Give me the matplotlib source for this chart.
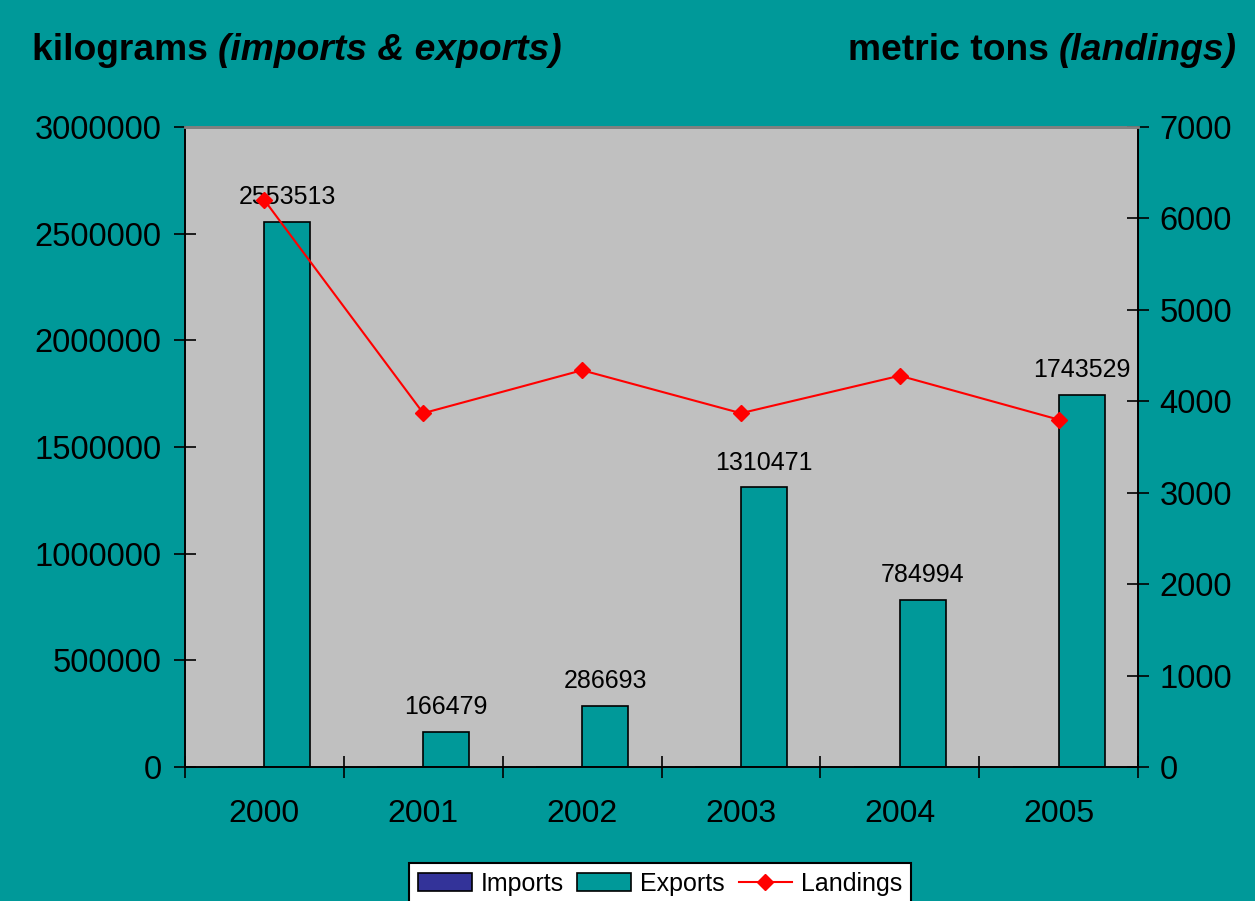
import matplotlib.pyplot as plt
import numpy as np

plt.rcParams['font.family'] = ['Liberation Sans', 'DejaVu Sans']

years = ['2000', '2001', '2002', '2003', '2004', '2005']
imports = [0, 0, 0, 0, 0, 0]
exports = [2553513, 166479, 286693, 1310471, 784994, 1743529]
landings = [6200, 3870, 4340, 3870, 4280, 3800]

teal = '#009999'
fig = plt.figure(figsize=(12.55, 9.01), dpi=100, facecolor=teal)
ax = fig.add_axes([0.1474, 0.1487, 0.7594, 0.7103])
ax.set_facecolor('#C0C0C0')

x = np.arange(len(years))
w = 0.29
ax.bar(x - w / 2, imports, w, color='#333399', edgecolor='black', linewidth=1.2, label='Imports')
bars = ax.bar(x + w / 2, exports, w, color=teal, edgecolor='black', linewidth=1.2, label='Exports')
for b, v in zip(bars, exports):
    ax.text(b.get_x() + b.get_width() / 2, v + 60000, str(v), ha='center', va='bottom', fontsize=18)

ax.set_xlim(-0.5, len(years) - 0.5)
ax.set_ylim(0, 3000000)
ax.set_yticks(range(0, 3000001, 500000))
ax.set_yticklabels([str(t) for t in range(0, 3000001, 500000)])
ax.set_xticks(x)
ax.set_xticklabels(years)
ax.set_xticks(np.arange(-0.5, len(years), 1), minor=True)
ax.tick_params(axis='x', which='major', length=0, pad=23, labelsize=23)
ax.tick_params(axis='x', which='minor', direction='inout', length=16, width=1.2)
ax.tick_params(axis='y', direction='inout', length=16, width=1.2, labelsize=23.5, pad=9)

ax2 = ax.twinx()
ax2.plot(x, landings, color='red', marker='D', markersize=8, linewidth=1.5, label='Landings')
ax2.set_ylim(0, 7000)
ax2.set_yticks(range(0, 7001, 1000))
ax2.tick_params(axis='y', direction='inout', length=16, width=1.2, labelsize=23.5, pad=7.5)

for a in (ax, ax2):
    for s in ('left', 'right', 'bottom'):
        a.spines[s].set_color('black')
        a.spines[s].set_linewidth(1.2)
    a.spines['top'].set_color('#808080')
    a.spines['top'].set_linewidth(2)

h1, l1 = ax.get_legend_handles_labels()
h2, l2 = ax2.get_legend_handles_labels()
leg = fig.legend(h1 + h2, l1 + l2, loc='lower center', bbox_to_anchor=(0.526, -0.018), ncol=3,
                 fontsize=18, frameon=True, fancybox=False, edgecolor='black', facecolor='white',
                 framealpha=1, handlelength=2.15, handletextpad=0.36, columnspacing=0.55,
                 borderpad=0.35)
leg.get_frame().set_linewidth(1.5)

fig.canvas.draw()
r = fig.canvas.get_renderer()
ty = 1 - 50 / 901
t1 = fig.text(32 / 1255, ty, 'kilograms ', fontsize=26.8, fontweight='bold', va='center')
bb = t1.get_window_extent(r)
fig.text(bb.x1 / 1255, ty, '(imports & exports)', fontsize=26.8, fontweight='bold',
         style='italic', va='center')
t3 = fig.text(1237 / 1255, ty, '(landings)', fontsize=26.8, fontweight='bold',
              style='italic', va='center', ha='right')
bb3 = t3.get_window_extent(r)
fig.text(bb3.x0 / 1255, ty, 'metric tons ', fontsize=26.8, fontweight='bold',
         va='center', ha='right')

fig.savefig('out.png', dpi=100, facecolor=teal)
